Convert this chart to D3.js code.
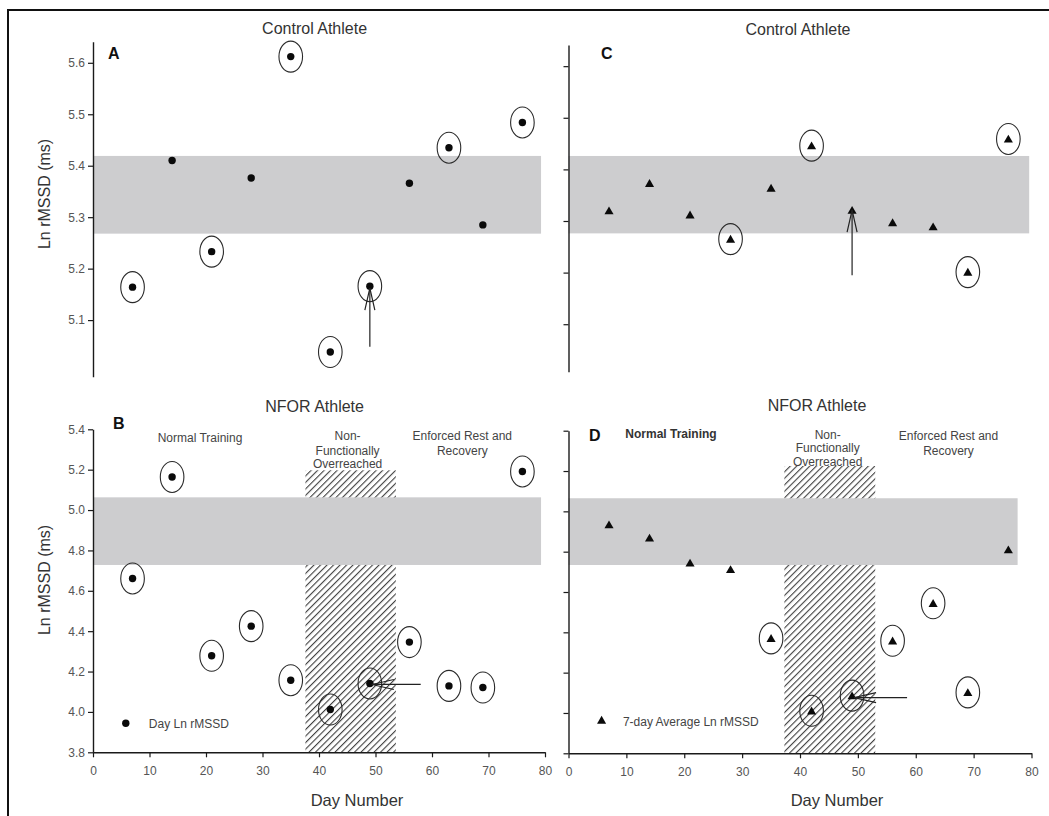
<!DOCTYPE html>
<html>
<head>
<meta charset="utf-8">
<script src="https://cdn.jsdelivr.net/npm/d3@7"></script>
<style>
  html, body { margin: 0; padding: 0; background: #fff; }
  svg { display: block; font-family: "Liberation Sans", Arial, Helvetica, sans-serif; }
</style>
</head>
<body>
<svg id="chart" width="1049" height="816"></svg>
<script>
// ---------------- DATA ----------------
const days = [7, 14, 21, 28, 35, 42, 49, 56, 63, 69, 76];

// Control athlete – daily Ln rMSSD (panel A)
const controlDaily = [5.164, 5.410, 5.233, 5.376, 5.612, 5.038, 5.166, 5.366, 5.435, 5.285, 5.484];
const controlDailyCircled = [1, 0, 1, 0, 1, 1, 1, 0, 1, 0, 1];

// Control athlete – 7-day average Ln rMSSD (panel C)
const controlWeekly = [5.318, 5.371, 5.310, 5.263, 5.362, 5.444, 5.319, 5.295, 5.287, 5.199, 5.457];
const controlWeeklyCircled = [0, 0, 0, 1, 0, 1, 0, 0, 0, 1, 1];

// NFOR athlete – daily Ln rMSSD (panel B)
const nforDaily = [4.661, 5.164, 4.278, 4.425, 4.157, 4.012, 4.141, 4.346, 4.129, 4.121, 5.191];
const nforDailyCircled = [1, 1, 1, 1, 1, 1, 1, 1, 1, 1, 1];

// NFOR athlete – 7-day average Ln rMSSD (panel D)
const nforWeekly = [4.929, 4.863, 4.739, 4.707, 4.365, 4.006, 4.081, 4.353, 4.539, 4.097, 4.805];
const nforWeeklyCircled = [0, 0, 0, 0, 1, 1, 1, 1, 1, 1, 0];

// Smallest worthwhile change bands [low, high] and their day extent
const bandA = [5.268, 5.419], bandAEnd = 79.3;
const bandC = [5.276, 5.426], bandCEnd = 79.6;
const bandB = [4.728, 5.063], bandBEnd = 79.3;
const bandD = [4.734, 5.065], bandDEnd = 77.6;

// Non-functionally overreached period [startDay, endDay, topValue]
const hatchB = [37.6, 53.6, 5.197];
const hatchD = [37.3, 53.0, 5.225];

// Arrow origins (point at day 49)
const arrowDay = 49;
const arrowFromA = 5.048;   // vertical arrow, value
const arrowFromC = 5.195;   // vertical arrow, value
const arrowFromB = 58.0;    // horizontal arrow, day
const arrowFromD = 58.5;    // horizontal arrow, day

// Tick labels
const xTicks = [0, 10, 20, 30, 40, 50, 60, 70, 80];
const yTicksControl = [5.1, 5.2, 5.3, 5.4, 5.5, 5.6];
const yTicksNfor = [3.8, 4.0, 4.2, 4.4, 4.6, 4.8, 5.0, 5.2, 5.4];

// ---------------- LAYOUT ----------------
const svg = d3.select("#chart");
const TXT = "#333";

// outer frame (cropped at right and bottom)
svg.append("path").attr("d", "M8,820 V10 H1055")
  .attr("fill", "none").attr("stroke", "#111").attr("stroke-width", 2);

// hatch pattern
const defs = svg.append("defs");
const pat = defs.append("pattern").attr("id", "hatch")
  .attr("patternUnits", "userSpaceOnUse").attr("width", 4.6).attr("height", 4.6)
  .attr("patternTransform", "rotate(45)");
pat.append("line").attr("x1", 0.6).attr("y1", 0).attr("x2", 0.6).attr("y2", 4.6)
  .attr("stroke", "#2a2a2a").attr("stroke-width", 1);

const panels = [
  { key: "A", title: "Control Athlete", values: controlDaily, circled: controlDailyCircled, marker: "dot",
    xr: [93, 545], yr: [376.7, 41.7], dom: [4.99, 5.641], ticks: yTicksControl, tickLabels: true,
    band: bandA, bandEnd: bandAEnd, xAxis: false, titleX: 314.6, titleY: 33.5,
    letterX: 108, letterY: 59, ylabel: true, ylabelY: 194,
    arrow: { dir: "up", from: arrowFromA } },
  { key: "C", title: "Control Athlete", values: controlWeekly, circled: controlWeeklyCircled, marker: "tri",
    xr: [568.5, 1031.5], yr: [371.7, 45], dom: [5.008, 5.641], ticks: yTicksControl, tickLabels: false,
    band: bandC, bandEnd: bandCEnd, xAxis: false, titleX: 798, titleY: 35,
    letterX: 601, letterY: 59, ylabel: false,
    arrow: { dir: "up", from: arrowFromC } },
  { key: "B", title: "NFOR Athlete", values: nforDaily, circled: nforDailyCircled, marker: "dot",
    xr: [93, 545], yr: [752.3, 429.3], dom: [3.8, 5.4], ticks: yTicksNfor, tickLabels: true,
    band: bandB, bandEnd: bandBEnd, hatch: hatchB, xAxis: true, titleX: 314.6, titleY: 412,
    letterX: 113, letterY: 429, ylabel: true, ylabelY: 580,
    arrow: { dir: "left", from: arrowFromB },
    legend: { x: 125.8, y: 723.3, tx: 148.8, text: "Day Ln rMSSD" },
    notes: [
      { x: 200, y: 441.5, t: "Normal Training", anchor: "middle", bold: false },
      { x: 347.6, y: 440, t: "Non-", anchor: "middle" },
      { x: 347.6, y: 454.5, t: "Functionally", anchor: "middle" },
      { x: 347.6, y: 467.5, t: "Overreached", anchor: "middle" },
      { x: 462.3, y: 440, t: "Enforced Rest and", anchor: "middle" },
      { x: 462.3, y: 454.5, t: "Recovery", anchor: "middle" }
    ],
    dayLabelX: 357 },
  { key: "D", title: "NFOR Athlete", values: nforWeekly, circled: nforWeeklyCircled, marker: "tri",
    xr: [568.5, 1031.5], yr: [753.3, 430.7], dom: [3.8, 5.4], ticks: yTicksNfor, tickLabels: false,
    band: bandD, bandEnd: bandDEnd, hatch: hatchD, xAxis: true, titleX: 817, titleY: 411,
    letterX: 589, letterY: 441, ylabel: false,
    arrow: { dir: "left", from: arrowFromD },
    legend: { x: 601.6, y: 721, tx: 622.9, text: "7-day Average Ln rMSSD" },
    notes: [
      { x: 625.3, y: 437.5, t: "Normal Training", anchor: "start", bold: true },
      { x: 827.7, y: 438.5, t: "Non-", anchor: "middle" },
      { x: 827.7, y: 452, t: "Functionally", anchor: "middle" },
      { x: 827.7, y: 466, t: "Overreached", anchor: "middle" },
      { x: 948.5, y: 439.5, t: "Enforced Rest and", anchor: "middle" },
      { x: 948.5, y: 454.5, t: "Recovery", anchor: "middle" }
    ],
    dayLabelX: 837 }
];

const triSym = d3.symbol().type(d3.symbolTriangle).size(36);

panels.forEach(p => {
  const x = d3.scaleLinear().domain([0, 80]).range(p.xr);
  const y = d3.scaleLinear().domain(p.dom).range(p.yr);
  const g = svg.append("g");

  // hatch
  if (p.hatch) {
    g.append("rect")
      .attr("x", x(p.hatch[0])).attr("width", x(p.hatch[1]) - x(p.hatch[0]))
      .attr("y", y(p.hatch[2])).attr("height", y(p.dom[0]) - y(p.hatch[2]))
      .attr("fill", "url(#hatch)");
  }
  // band
  g.append("rect")
    .attr("x", x(0)).attr("width", x(p.bandEnd) - x(0))
    .attr("y", y(p.band[1])).attr("height", y(p.band[0]) - y(p.band[1]))
    .attr("fill", "#cdcdcf");

  // y axis
  const yAxis = d3.axisLeft(y).tickValues(p.ticks).tickSize(5).tickSizeOuter(0).tickPadding(3)
    .tickFormat(p.tickLabels ? d3.format(".1f") : () => "");
  const ya = g.append("g").attr("transform", `translate(${x(0)},0)`).call(yAxis);
  ya.select(".domain").attr("stroke", "#1a1a1a").attr("stroke-width", 1.4);
  ya.selectAll(".tick line").attr("stroke", "#1a1a1a").attr("stroke-width", 1.2);
  ya.selectAll(".tick text").attr("fill", "#555").style("font-size", "12px");

  // x axis
  if (p.xAxis) {
    const xAxis = d3.axisBottom(x).tickValues(xTicks).tickSize(5).tickSizeOuter(0).tickPadding(9);
    const xa = g.append("g").attr("transform", `translate(0,${y(p.dom[0])})`).call(xAxis);
    xa.select(".domain").attr("stroke", "#1a1a1a").attr("stroke-width", 1.4);
    xa.selectAll(".tick line").attr("stroke", "#1a1a1a").attr("stroke-width", 1.2);
    xa.selectAll(".tick text").attr("fill", "#555").style("font-size", "12px");
    g.append("text").attr("x", p.dayLabelX).attr("y", 806)
      .attr("text-anchor", "middle").attr("fill", TXT).style("font-size", "16.5px")
      .text("Day Number");
  }

  // title
  g.append("text").attr("x", p.titleX).attr("y", p.titleY)
    .attr("text-anchor", "middle").attr("fill", TXT).style("font-size", "16px").text(p.title);
  // panel letter
  g.append("text").attr("x", p.letterX).attr("y", p.letterY)
    .attr("fill", "#111").style("font-size", "16px").style("font-weight", "bold").text(p.key);
  // y label
  if (p.ylabel) {
    g.append("text").attr("transform", `translate(50,${p.ylabelY}) rotate(-90)`)
      .attr("text-anchor", "middle").attr("fill", TXT).style("font-size", "16px")
      .text("Ln rMSSD (ms)");
  }

  // notes
  (p.notes || []).forEach(n => {
    g.append("text").attr("x", n.x).attr("y", n.y).attr("text-anchor", n.anchor)
      .attr("fill", n.bold ? "#333" : "#444").style("font-size", "12px")
      .style("font-weight", n.bold ? "bold" : "normal").text(n.t);
  });

  // points
  const pts = days.map((d, i) => ({ d, v: p.values[i], c: p.circled[i] }));
  const pg = g.append("g");
  pts.forEach(pt => {
    const cx = x(pt.d), cy = y(pt.v);
    if (p.marker === "dot") {
      pg.append("circle").attr("cx", cx).attr("cy", cy).attr("r", 3.7).attr("fill", "#0a0a0a");
    } else {
      pg.append("path").attr("d", triSym).attr("transform", `translate(${cx},${cy})`).attr("fill", "#0a0a0a");
    }
    if (pt.c) {
      pg.append("ellipse").attr("cx", cx).attr("cy", cy - (p.marker === "tri" ? 1 : 0))
        .attr("rx", 11.8).attr("ry", 15.5)
        .attr("fill", "none").attr("stroke", "#2a2a2a").attr("stroke-width", 1.1);
    }
  });

  // arrow
  const ai = days.indexOf(arrowDay);
  const tx = x(arrowDay), ty = y(p.values[ai]);
  const ag = g.append("g").attr("stroke", "#222").attr("stroke-width", 1.2).attr("fill", "none");
  if (p.arrow.dir === "up") {
    const tipY = ty + (p.marker === "tri" ? -1 : 2);
    ag.append("line").attr("x1", tx).attr("y1", y(p.arrow.from)).attr("x2", tx).attr("y2", tipY);
    ag.append("path").attr("d", `M${tx - 5},${tipY + 22} L${tx},${tipY} L${tx + 5},${tipY + 22}`);
  } else {
    const tipX = tx + 2;
    ag.append("line").attr("x1", x(p.arrow.from)).attr("y1", ty + 1).attr("x2", tipX).attr("y2", ty + 1);
    ag.append("path").attr("d", `M${tipX + 22},${ty - 4} L${tipX},${ty + 1} L${tipX + 22},${ty + 6}`);
  }

  // legend
  if (p.legend) {
    if (p.marker === "dot") {
      g.append("circle").attr("cx", p.legend.x).attr("cy", p.legend.y).attr("r", 3.7).attr("fill", "#0a0a0a");
    } else {
      g.append("path").attr("d", triSym).attr("transform", `translate(${p.legend.x},${p.legend.y})`).attr("fill", "#0a0a0a");
    }
    g.append("text").attr("x", p.legend.tx).attr("y", p.legend.y + 4.5)
      .attr("fill", "#444").style("font-size", "12px").text(p.legend.text);
  }
});
</script>
</body>
</html>
